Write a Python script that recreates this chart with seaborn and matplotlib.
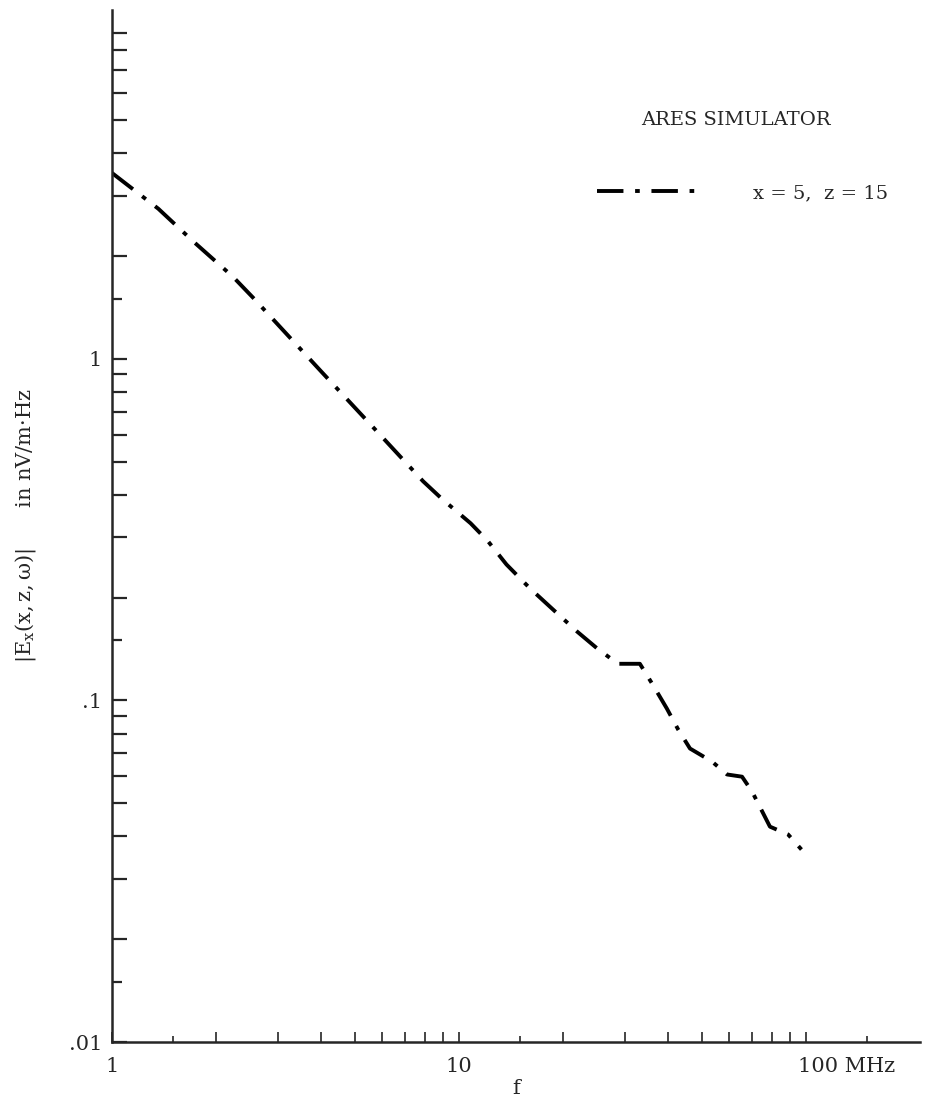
import matplotlib

matplotlib.use("Agg")
import matplotlib.pyplot as plt  # noqa: E402
import matplotlib.transforms as mtransforms  # noqa: E402
import pandas as pd  # noqa: E402
import seaborn as sns  # noqa: E402
from matplotlib.ticker import FixedFormatter, FixedLocator, NullFormatter  # noqa: E402

# data (f in MHz, |Ex| in nV/m.Hz)
freq = [1.0, 1.36, 1.72, 2.23, 2.55, 4.0, 5.5, 7.88, 8.93, 10.8, 12.1, 13.7, 16.0,
        18.5, 21.9, 25.0, 28.7, 31.1, 33.2, 36.2, 39.7, 42.8, 46.3, 53.6, 59.2,
        65.4, 69.9, 78.7, 88.8, 97.0]
field = [3.5, 2.75, 2.2, 1.74, 1.51, 0.92, 0.65, 0.438, 0.389, 0.330, 0.293, 0.250,
         0.213, 0.186, 0.159, 0.142, 0.128, 0.128, 0.128, 0.111, 0.0947, 0.0822,
         0.0723, 0.0662, 0.0607, 0.0598, 0.0541, 0.0427, 0.0405, 0.0366]
series_label = "x = 5,  z = 15"

x_major = [1, 2, 3, 4, 5, 6, 7, 8, 9, 10, 20, 30, 40, 50, 60, 70, 80, 90, 100]
x_minor = [1.5, 15, 150]
x_labels = {1: "1", 10: "10", 100: "100 MHz"}
y_major = [0.01, 0.02, 0.03, 0.04, 0.05, 0.06, 0.07, 0.08, 0.09,
           0.1, 0.2, 0.3, 0.4, 0.5, 0.6, 0.7, 0.8, 0.9,
           1, 2, 3, 4, 5, 6, 7, 8, 9]
y_minor = [0.015, 0.15, 1.5]
y_labels = {0.01: ".01", 0.1: ".1", 1: "1"}

sns.set_style("ticks")
plt.rcParams["font.family"] = ["DejaVu Serif"]
plt.rcParams["mathtext.fontset"] = "dejavuserif"

df = pd.DataFrame({"f": freq, "E": field})

fig = plt.figure(figsize=(9.51, 11.08), dpi=100)
ax = fig.add_axes([112 / 951, 1 - 1042 / 1108, (920 - 112) / 951, (1042 - 10) / 1108])

# dash-dot pattern, in units of the line width
sns.lineplot(data=df, x="f", y="E", ax=ax, color="black", lw=2.8,
             linestyle=(0, (6.8, 3.0, 1.2, 3.0)), label=series_label, sort=False)

ax.set_xscale("log")
ax.set_yscale("log")
ax.set_xlim(1, 213)
ax.set_ylim(0.01, 10.5)

ax.xaxis.set_major_locator(FixedLocator(x_major))
ax.xaxis.set_major_formatter(FixedFormatter([x_labels.get(v, "") for v in x_major]))
ax.xaxis.set_minor_locator(FixedLocator(x_minor))
ax.xaxis.set_minor_formatter(NullFormatter())
ax.yaxis.set_major_locator(FixedLocator(y_major))
ax.yaxis.set_major_formatter(FixedFormatter([y_labels.get(v, "") for v in y_major]))
ax.yaxis.set_minor_locator(FixedLocator(y_minor))
ax.yaxis.set_minor_formatter(NullFormatter())

ax.tick_params(axis="x", which="major", direction="in", length=7, width=1.2,
               pad=11, labelsize=15)
ax.tick_params(axis="x", which="minor", direction="in", length=4.5, width=1.2)
ax.tick_params(axis="y", which="major", direction="in", length=11, width=1.6,
               pad=7, labelsize=15)
ax.tick_params(axis="y", which="minor", direction="in", length=7, width=1.6)

# shift "100 MHz" so the number sits on its tick
for lbl in ax.get_xticklabels():
    if lbl.get_text() == "100 MHz":
        lbl.set_horizontalalignment("left")
        lbl.set_transform(lbl.get_transform() + mtransforms.ScaledTranslation(
            -8 / 100, 0, fig.dpi_scale_trans))

sns.despine(ax=ax)
for side in ["left", "bottom"]:
    ax.spines[side].set_linewidth(1.8)

ax.set_xlabel("f", fontsize=15, labelpad=2)
ax.set_ylabel(r"$|\mathrm{E_x(x,z,\omega)}|$" + "      in nV/m\u00b7Hz",
              fontsize=15, labelpad=22)

fig.text(736 / 951, 1 - 120 / 1108, "ARES SIMULATOR", ha="center", va="center",
         fontsize=14)
ax.legend(loc="center left", bbox_to_anchor=(597 / 951, 1 - 193 / 1108),
          bbox_transform=fig.transFigure, frameon=False, fontsize=14,
          handlelength=5.4, handletextpad=2.6, borderpad=0, borderaxespad=0)

fig.savefig("out.png", dpi=100)
plt.close(fig)
